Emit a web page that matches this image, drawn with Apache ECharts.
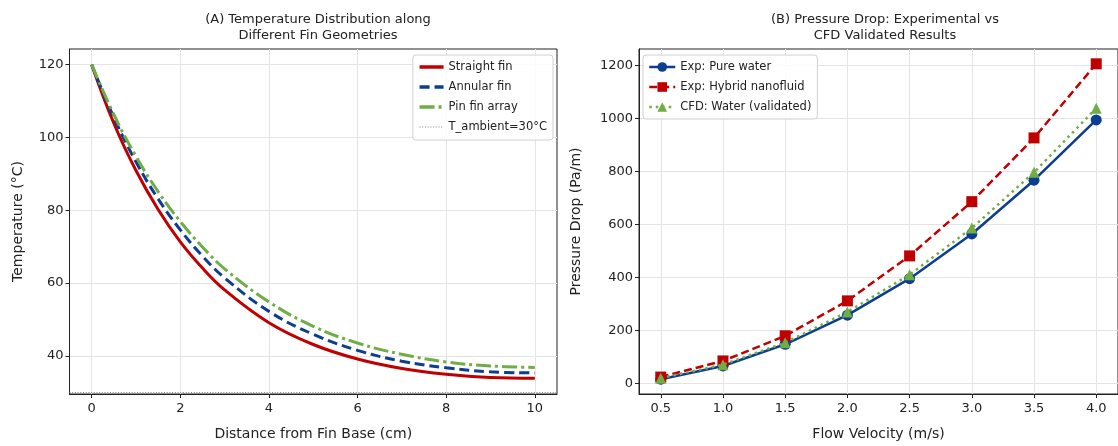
<!DOCTYPE html>
<html><head><meta charset="utf-8">
<script src="https://cdn.jsdelivr.net/npm/echarts@6/dist/echarts.min.js"></script>
<style>html,body{margin:0;padding:0;background:#fff}#c{width:1118px;height:446px}</style>
</head><body><div id="c"></div>
<script>
// ---- Panel A data ----
const distance     = [0, 0.5, 1, 1.5, 2, 2.5, 3, 4, 5, 6, 7, 8, 9, 10];
const straightFin  = [120, 103.9, 90.9, 80.2, 71.3, 64.1, 58.1, 49.1, 43.1, 39.1, 36.5, 34.9, 34.0, 33.8];
const annularFin   = [120, 105.5, 93.3, 83.1, 74.6, 67.4, 61.4, 52.2, 45.9, 41.5, 38.5, 36.7, 35.6, 35.3];
const pinFinArray  = [120, 106.3, 94.8, 85.1, 76.9, 69.9, 63.9, 54.8, 48.1, 43.5, 40.4, 38.3, 37.2, 36.8];
const T_AMBIENT    = 30;
const distTicks    = [0, 2, 4, 6, 8, 10];
const tempTicks    = [40, 60, 80, 100, 120];

// ---- Panel B data ----
const velocity        = [0.5, 1.0, 1.5, 2.0, 2.5, 3.0, 3.5, 4.0];
const pureWater       = [15, 65, 147, 257, 395, 564, 767, 995];
const hybridNanofluid = [23, 84, 179, 311, 481, 686, 927, 1207];
const cfdWater        = [19, 70, 153, 269, 410, 586, 797, 1039];
const velTicks        = [0.5, 1.0, 1.5, 2.0, 2.5, 3.0, 3.5, 4.0];
const pressureTicks   = [0, 200, 400, 600, 800, 1000, 1200];

const FONT = 'DejaVu Sans';
const TXT = '#222';
const GRIDC = '#e4e4e4';
const RED = '#C00000', BLUE = '#0B3D91', GREEN = '#70AD47';

const zip = (xs, ys) => xs.map((x, i) => [x, ys[i]]);

function xAxisCfg(idx, min, max, ticks, name, fmt) {
  return {
    gridIndex: idx, type: 'value', min: min, max: max,
    name: name, nameLocation: 'middle', nameGap: 33,
    nameTextStyle: {fontFamily: FONT, fontSize: 14, color: TXT},
    axisLine: {show: true, onZero: false, lineStyle: {color: TXT, width: 1}},
    axisTick: {show: true, customValues: ticks, length: 4, lineStyle: {color: TXT}},
    axisLabel: {customValues: ticks, fontFamily: FONT, fontSize: 13, color: TXT, margin: 8,
                formatter: fmt || (v => String(v))},
    splitLine: {show: true, lineStyle: {color: GRIDC, width: 1}}
  };
}
function yAxisCfg(idx, min, max, ticks, name, gap) {
  return {
    gridIndex: idx, type: 'value', min: min, max: max,
    name: name, nameLocation: 'middle', nameGap: gap, nameRotate: 90,
    nameTextStyle: {fontFamily: FONT, fontSize: 14, color: TXT},
    axisLine: {show: true, onZero: false, lineStyle: {color: TXT, width: 1}},
    axisTick: {show: true, customValues: ticks, length: 4, lineStyle: {color: TXT}},
    axisLabel: {customValues: ticks, fontFamily: FONT, fontSize: 13, color: TXT, margin: 6,
                formatter: v => String(v)},
    splitLine: {show: true, lineStyle: {color: GRIDC, width: 1}}
  };
}

const chart = echarts.init(document.getElementById('c'), null, {renderer: 'canvas'});
chart.setOption({
  animation: false,
  backgroundColor: '#fff',
  title: [
    {text: '(A) Temperature Distribution along\nDifferent Fin Geometries', left: 313, top: 7, textAlign: 'center',
     textStyle: {fontFamily: FONT, fontSize: 13, fontWeight: 'normal', color: TXT, lineHeight: 16}},
    {text: '(B) Pressure Drop: Experimental vs\nCFD Validated Results', left: 880, top: 7, textAlign: 'center',
     textStyle: {fontFamily: FONT, fontSize: 13, fontWeight: 'normal', color: TXT, lineHeight: 16}}
  ],
  grid: [
    {left: 69.5, top: 49, width: 487.5, height: 348, show: true, borderColor: TXT, borderWidth: 1, containLabel: false},
    {left: 639, top: 49, width: 483, height: 348, show: true, borderColor: TXT, borderWidth: 1, containLabel: false}
  ],
  xAxis: [
    xAxisCfg(0, -0.5, 10.5, distTicks, 'Distance from Fin Base (cm)'),
    xAxisCfg(1, 0.325, 4.175, velTicks, 'Flow Velocity (m/s)', v => v.toFixed(1))
  ],
  yAxis: [
    yAxisCfg(0, 29.5, 124.3, tempTicks, 'Temperature (°C)', 44),
    yAxisCfg(1, -41, 1263, pressureTicks, 'Pressure Drop (Pa/m)', 56)
  ],
  legend: [
    {orient: 'vertical', right: 565, top: 55, padding: [6, 6, 7, 5], itemGap: 8, itemWidth: 24, itemHeight: 12,
     itemStyle: {opacity: 0},
     backgroundColor: 'rgba(255,255,255,0.85)', borderColor: '#d0d0d0', borderWidth: 1, borderRadius: 3,
     textStyle: {fontFamily: FONT, fontSize: 11.5, color: TXT},
     data: [
       {name: 'Straight fin', lineStyle: {width: 3.5}},
       {name: 'Annular fin', lineStyle: {width: 3.5}},
       {name: 'Pin fin array', lineStyle: {width: 3.5}},
       {name: 'T_ambient=30°C', lineStyle: {width: 1}}
     ]},
    {orient: 'vertical', left: 643, top: 55, padding: [6, 6, 6, 5], itemGap: 8, itemWidth: 26, itemHeight: 12,
     backgroundColor: 'rgba(255,255,255,0.85)', borderColor: '#d0d0d0', borderWidth: 1, borderRadius: 3,
     textStyle: {fontFamily: FONT, fontSize: 11.5, color: TXT},
     data: [
       {name: 'Exp: Pure water', lineStyle: {width: 2.5}},
       {name: 'Exp: Hybrid nanofluid', lineStyle: {width: 2.5}},
       {name: 'CFD: Water (validated)', lineStyle: {width: 2.5}}
     ]}
  ],
  series: [
    {name: 'T_ambient=30°C', type: 'line', xAxisIndex: 0, yAxisIndex: 0, data: [], symbol: 'none',
     color: '#808080', lineStyle: {color: '#808080', width: 1, type: [1, 1.7]},
     markLine: {silent: true, symbol: 'none', label: {show: false},
                lineStyle: {color: '#808080', width: 1, type: [1, 1.7]},
                data: [{yAxis: T_AMBIENT}]}},
    {name: 'Straight fin', type: 'line', xAxisIndex: 0, yAxisIndex: 0, data: zip(distance, straightFin),
     smooth: 0.4, symbol: 'none', color: RED, z: 3,
     lineStyle: {color: RED, width: 3}},
    {name: 'Annular fin', type: 'line', xAxisIndex: 0, yAxisIndex: 0, data: zip(distance, annularFin),
     smooth: 0.4, symbol: 'none', color: BLUE, z: 4,
     lineStyle: {color: BLUE, width: 3, type: [10, 5]}},
    {name: 'Pin fin array', type: 'line', xAxisIndex: 0, yAxisIndex: 0, data: zip(distance, pinFinArray),
     smooth: 0.4, symbol: 'none', color: GREEN, z: 5,
     lineStyle: {color: GREEN, width: 3, type: [15, 4, 3, 4]}},

    {name: 'Exp: Pure water', type: 'line', xAxisIndex: 1, yAxisIndex: 1, data: zip(velocity, pureWater),
     symbol: 'circle', symbolSize: 11, color: BLUE, z: 3,
     itemStyle: {color: BLUE}, lineStyle: {color: BLUE, width: 2.5}},
    {name: 'Exp: Hybrid nanofluid', type: 'line', xAxisIndex: 1, yAxisIndex: 1, data: zip(velocity, hybridNanofluid),
     symbol: 'rect', symbolSize: 11, color: RED, z: 4,
     itemStyle: {color: RED}, lineStyle: {color: RED, width: 2.5, type: [8, 4]}},
    {name: 'CFD: Water (validated)', type: 'line', xAxisIndex: 1, yAxisIndex: 1, data: zip(velocity, cfdWater),
     symbol: 'triangle', symbolSize: 11, color: GREEN, z: 5,
     itemStyle: {color: GREEN}, lineStyle: {color: GREEN, width: 2.5, type: [2.5, 4]}}
  ]
});
</script></body></html>
